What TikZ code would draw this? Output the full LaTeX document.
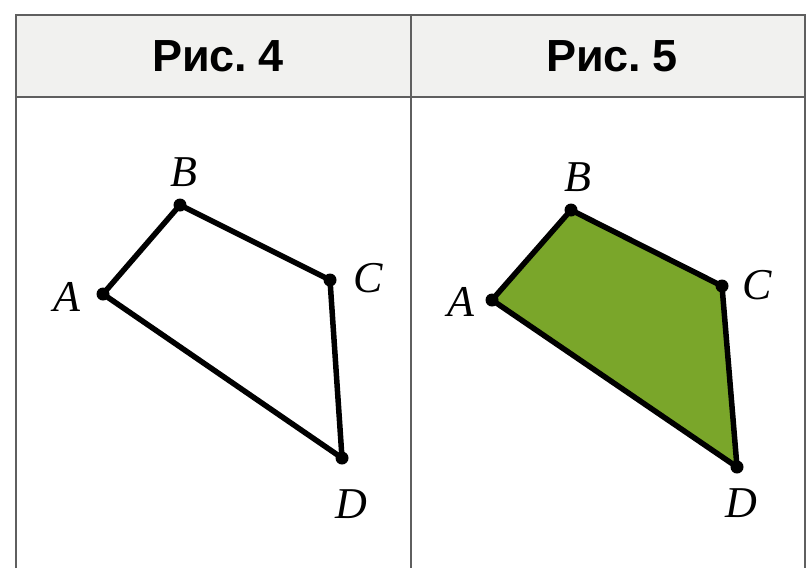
\documentclass[tikz,border=0pt]{standalone}
\usepackage{fontspec}
\setmainfont{Liberation Serif}
\newfontfamily\headfont[WordSpace=0.6]{Liberation Sans}
\usetikzlibrary{positioning}
\definecolor{figgreen}{RGB}{122,166,42}
\definecolor{headgray}{RGB}{241,241,239}
\definecolor{rulegray}{RGB}{95,95,95}
\tikzstyle{header} = [font=\headfont\bfseries\fontsize{45}{45}\selectfont, text=black]
\tikzstyle{vertex} = [circle, fill=black, inner sep=0pt, minimum size=13pt]
\tikzstyle{vlabel} = [font=\itshape\fontsize{44}{44}\selectfont, inner sep=0pt]
\tikzstyle{side}   = [line width=5.5pt, line join=round]
\tikzstyle{rule}   = [draw=rulegray, line width=2.5pt]

\begin{document}
\begin{tikzpicture}[x=1pt, y=-1pt]
            \useasboundingbox (0,0) rectangle (810,568);
            % table header and rules
            \fill [headgray] (16,15) rectangle (805,97);
            \draw [rule] (16,568) -- (16,15) -- (805,15) -- (805,568);
            \draw [rule] (16,97) -- (805,97);
            \draw [rule] (411,15) -- (411,568);
            \node (head4) [header] at (218,56) {Рис. 4};
            \node (head5) [header] at (612,56) {Рис. 5};

            % Рис. 4 vertices
            \coordinate (A4) at (103,294);
            \coordinate (B4) at (180,205);
            \coordinate (C4) at (330,280);
            \coordinate (D4) at (342,458);
            % Рис. 5 vertices
            \coordinate (A5) at (492,300);
            \coordinate (B5) at (571,210);
            \coordinate (C5) at (722,286);
            \coordinate (D5) at (737,467);

            % quadrilaterals
            \draw [side] (A4) -- (B4) -- (C4) -- (D4) -- cycle;
            \draw [side, fill=figgreen] (A5) -- (B5) -- (C5) -- (D5) -- cycle;

            % dots
            \node (dA4) [vertex] at (A4) {};
            \node (dB4) [vertex] at (B4) {};
            \node (dC4) [vertex] at (C4) {};
            \node (dD4) [vertex] at (D4) {};
            \node (dA5) [vertex] at (A5) {};
            \node (dB5) [vertex] at (B5) {};
            \node (dC5) [vertex] at (C5) {};
            \node (dD5) [vertex] at (D5) {};

            % labels
            \node (lA4) [vlabel] at (67,297) {A};
            \node (lB4) [vlabel] at (184,172) {B};
            \node (lC4) [vlabel] at (368,278) {C};
            \node (lD4) [vlabel] at (351,504) {D};
            \node (lA5) [vlabel] at (461,302) {A};
            \node (lB5) [vlabel] at (578,177) {B};
            \node (lC5) [vlabel] at (757,285) {C};
            \node (lD5) [vlabel] at (741,503) {D};
\end{tikzpicture}
\end{document}
